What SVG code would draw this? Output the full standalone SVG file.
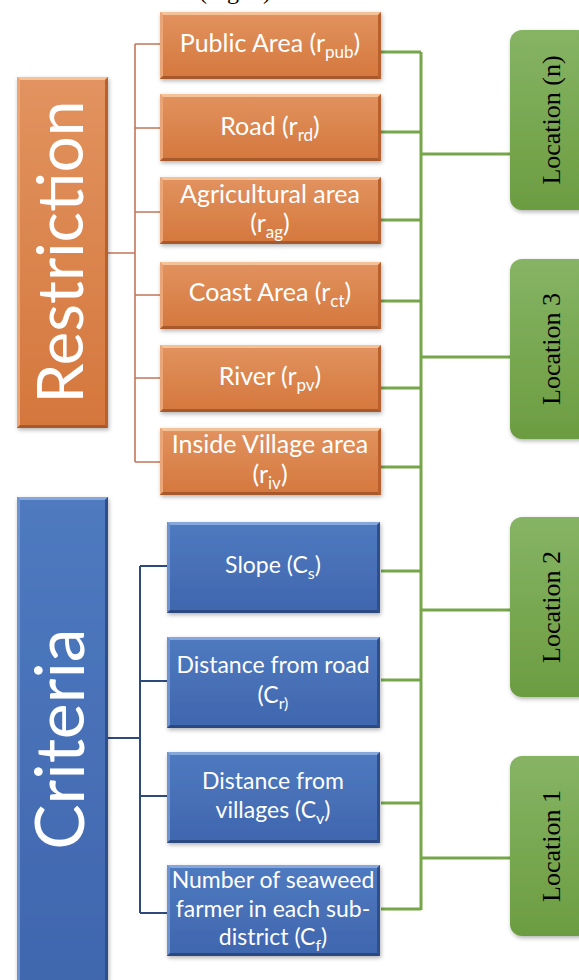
<svg xmlns="http://www.w3.org/2000/svg" xmlns:xlink="http://www.w3.org/1999/xlink" width="579" height="980" viewBox="0 0 579 980">
<defs>
<linearGradient id="og" x1="0" y1="0" x2="0" y2="1"><stop offset="0" stop-color="#E2935F"/><stop offset="1" stop-color="#D4773D"/></linearGradient>
<linearGradient id="bg" x1="0" y1="0" x2="0" y2="1"><stop offset="0" stop-color="#4F7AC0"/><stop offset="1" stop-color="#3F66AE"/></linearGradient>
<linearGradient id="gg" x1="0" y1="0" x2="0" y2="1"><stop offset="0" stop-color="#86B464"/><stop offset="1" stop-color="#6C9C41"/></linearGradient>
<filter id="sh" x="-10%" y="-10%" width="130%" height="130%"><feDropShadow dx="1" dy="2" stdDeviation="2" flood-color="#000" flood-opacity="0.3"/></filter>
<g id="obox">
<rect width="221" height="67" fill="url(#og)" filter="url(#sh)"/>
<polygon points="0,0 221,0 218,3 3,3" fill="#F5C196"/>
<polygon points="0,0 3,3 3,64 0,67" fill="#EBA577"/>
<polygon points="221,0 221,67 218,64 218,3" fill="#B9612E"/>
<polygon points="0,67 221,67 218,64 3,64" fill="#A8592B"/>
</g>
<g id="bbox">
<rect width="213" height="91" fill="url(#bg)" filter="url(#sh)"/>
<polygon points="0,0 213,0 210,3 3,3" fill="#86A7DC"/>
<polygon points="0,0 3,3 3,88 0,91" fill="#6E93D0"/>
<polygon points="213,0 213,91 210,88 210,3" fill="#2F4F8C"/>
<polygon points="0,91 213,91 210,88 3,88" fill="#2B4880"/>
</g>
<rect id="gbox" width="80" height="180" rx="12" ry="12" fill="url(#gg)" filter="url(#sh)"/>
</defs>
<style>
.wt{font-family:Lato,"Open Sans","Liberation Sans",sans-serif;font-size:25px;fill:#fff;text-anchor:middle}
.bt{font-size:23px}
.sub{font-size:17px}
.bt .sub{font-size:16px}
.big{font-family:Lato,"Open Sans","Liberation Sans",sans-serif;font-size:64px;fill:#fff;text-anchor:middle}
.loc{font-family:"Liberation Serif","Times New Roman",serif;font-size:26px;fill:#000;text-anchor:middle}
.oc{stroke:#C47659;stroke-width:1.6;fill:none}
.bc{stroke:#2E4A7C;stroke-width:2;fill:none}
.gc{stroke:#76A64A;stroke-width:3;fill:none}
</style>
<rect width="579" height="980" fill="#fff"/>
<text x="199" y="-1" font-family="'Liberation Serif',serif" font-size="24" fill="#000">(Fig. 2)</text>

<g id="connectors">
<path class="oc" d="M108,253 H135 M135,44 V462 M135,44 H160 M135,128 H160 M135,212 H160 M135,295 H160 M135,378 H160 M135,462 H160"/>
<path class="bc" d="M108,738 H140 M140,566 V913 M140,566 H167 M140,681 H167 M140,796 H167 M140,913 H167"/>
<path class="gc" d="M421,52 V910 M381,52 H421 M381,132 H421 M381,220 H421 M381,301 H421 M381,388 H421 M381,467 H421 M381,571 H421 M381,680 H421 M381,803 H421 M381,909 H421 M421,154 H510 M421,357 H510 M421,610 H510 M421,858 H510"/>
</g>

<g id="restriction">
<rect x="17" y="77" width="91" height="351" fill="url(#og)" filter="url(#sh)"/>
<polygon points="17,77 108,77 105,80 20,80" fill="#F5C196"/>
<polygon points="17,77 20,80 20,425 17,428" fill="#EBA577"/>
<polygon points="108,77 108,428 105,425 105,80" fill="#B9612E"/>
<polygon points="17,428 108,428 105,425 20,425" fill="#A8592B"/>
<text class="big" transform="translate(83,252) rotate(-90)">Restriction</text>
</g>

<g id="criteria">
<rect x="17" y="497" width="91" height="495" fill="url(#bg)" filter="url(#sh)"/>
<polygon points="17,497 108,497 105,500 20,500" fill="#86A7DC"/>
<polygon points="17,497 20,500 20,992 17,992" fill="#6E93D0"/>
<polygon points="108,497 108,992 105,992 105,500" fill="#2F4F8C"/>
<text class="big" font-size="68" style="font-size:68px" transform="translate(84,739) rotate(-90)">Criteria</text>
</g>

<g id="r_pub" transform="translate(160,12)"><use href="#obox"/><text class="wt" x="110" y="40">Public Area (r<tspan class="sub" dy="6">pub</tspan><tspan dy="-6">)</tspan></text></g>
<g id="r_rd" transform="translate(160,94)"><use href="#obox"/><text class="wt" x="110" y="41">Road (r<tspan class="sub" dy="6">rd</tspan><tspan dy="-6">)</tspan></text></g>
<g id="r_ag" transform="translate(160,177)"><use href="#obox"/><text class="wt" x="110" y="26">Agricultural area</text><text class="wt" x="110" y="55">(r<tspan class="sub" dy="6">ag</tspan><tspan dy="-6">)</tspan></text></g>
<g id="r_ct" transform="translate(160,262)"><use href="#obox"/><text class="wt" x="110" y="39">Coast Area (r<tspan class="sub" dy="6">ct</tspan><tspan dy="-6">)</tspan></text></g>
<g id="r_pv" transform="translate(160,345)"><use href="#obox"/><text class="wt" x="110" y="40">River (r<tspan class="sub" dy="6">pv</tspan><tspan dy="-6">)</tspan></text></g>
<g id="r_iv" transform="translate(160,428)"><use href="#obox"/><text class="wt" x="110" y="25">Inside Village area</text><text class="wt" x="110" y="55">(r<tspan class="sub" dy="6">iv</tspan><tspan dy="-6">)</tspan></text></g>

<g id="c_s" transform="translate(167,522)"><use href="#bbox"/><text class="wt bt" x="106" y="51">Slope (C<tspan class="sub" dy="6">s</tspan><tspan dy="-6">)</tspan></text></g>
<g id="c_r" transform="translate(167,637)"><use href="#bbox"/><text class="wt bt" x="106" y="36">Distance from road</text><text class="wt bt" x="106" y="66">(C<tspan class="sub" dy="6">r)</tspan></text></g>
<g id="c_v" transform="translate(167,752)"><use href="#bbox"/><text class="wt bt" x="106" y="37">Distance from</text><text class="wt bt" x="106" y="66">villages (C<tspan class="sub" dy="6">v</tspan><tspan dy="-6">)</tspan></text></g>
<g id="c_f" transform="translate(167,865)"><use href="#bbox"/><text class="wt bt" x="106" y="23">Number of seaweed</text><text class="wt bt" x="106" y="52">farmer in each sub-</text><text class="wt bt" x="106" y="80">district (C<tspan class="sub" dy="6">f</tspan><tspan dy="-6">)</tspan></text></g>

<g id="loc_n" transform="translate(510,30)"><use href="#gbox"/><text class="loc" transform="translate(50,90) rotate(-90)">Location (n)</text></g>
<g id="loc_3" transform="translate(510,259)"><use href="#gbox"/><text class="loc" transform="translate(50,90) rotate(-90)">Location 3</text></g>
<g id="loc_2" transform="translate(510,517)"><use href="#gbox"/><text class="loc" transform="translate(50,90) rotate(-90)">Location 2</text></g>
<g id="loc_1" transform="translate(510,756)"><use href="#gbox"/><text class="loc" transform="translate(50,90) rotate(-90)">Location 1</text></g>
</svg>
